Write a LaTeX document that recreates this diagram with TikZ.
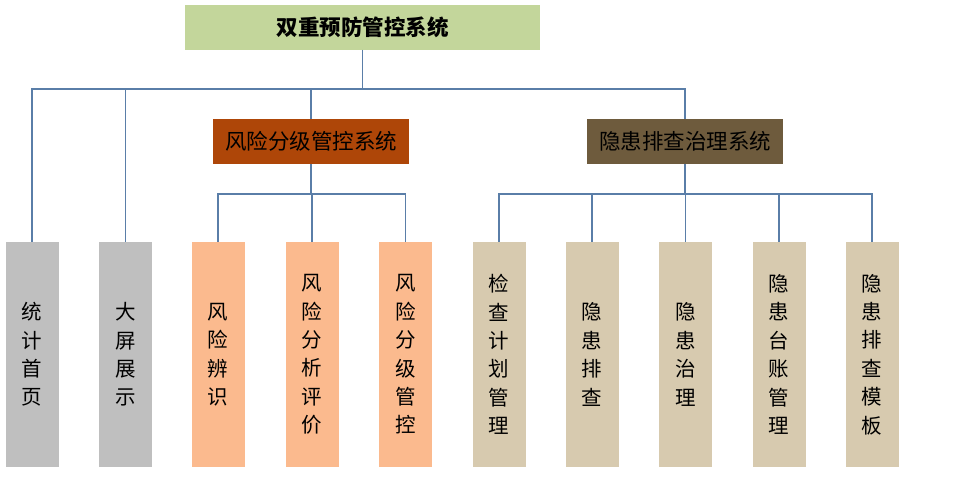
\documentclass[tikz,border=0pt]{standalone}
\usepackage{fontspec}
\newfontfamily\cjk{Noto Sans CJK SC}
\usepackage{tikz}
\usetikzlibrary{positioning}

\definecolor{topgreen}{HTML}{C3D69B}
\definecolor{riskbrown}{HTML}{AE4608}
\definecolor{hidbrown}{HTML}{6E5B3D}
\definecolor{leafgray}{HTML}{BFBFBF}
\definecolor{leafsalmon}{HTML}{FBBA8E}
\definecolor{leaftan}{HTML}{D7CAAF}
\definecolor{linkblue}{HTML}{5A7EA8}

\tikzset{
    link/.style={draw=linkblue, line width=1.4pt},
    sysbox/.style={minimum width=196pt, minimum height=45pt, inner sep=0pt,
        font=\cjk\fontsize{21.5}{24}\selectfont, text=black},
    leaf/.style={minimum width=53pt, minimum height=225pt, inner sep=0pt,
        align=center, text=black, font=\cjk\fontsize{20.5}{28.4}\selectfont}
}

\begin{document}
\begin{tikzpicture}[x=1pt, y=-1pt]
    \useasboundingbox (0,0) rectangle (967,477);

    % Top system
    \node[sysbox, fill=topgreen, minimum width=355pt, font=\cjk\bfseries\fontsize{21.5}{24}\selectfont] (top) at (362.5,27) {双重预防管控系统};

    % Sub systems
    \node[sysbox, fill=riskbrown] (risk) at (311,141.5) {风险分级管控系统};
    \node[sysbox, fill=hidbrown] (hid) at (685,141.5) {隐患排查治理系统};

    % Leaves
    \foreach \name/\x/\col/\txt in {
        tj/32/leafgray/{统\\计\\首\\页},
        dp/125.5/leafgray/{大\\屏\\展\\示},
        fa/218/leafsalmon/{风\\险\\辨\\识},
        fb/312/leafsalmon/{风\\险\\分\\析\\评\\价},
        fc/405.5/leafsalmon/{风\\险\\分\\级\\管\\控},
        ha/499/leaftan/{检\\查\\计\\划\\管\\理},
        hb/592/leaftan/{隐\\患\\排\\查},
        hc/685.5/leaftan/{隐\\患\\治\\理},
        hd/779/leaftan/{隐\\患\\台\\账\\管\\理},
        he/872/leaftan/{隐\\患\\排\\查\\模\\板}} {
    \node[leaf, fill=\col] (\name) at (\x,354.5) {\txt};
}

    % Connectors
    \coordinate (bus) at (top.south |- 0,89);
    \draw[link] (top.south) -- (bus);
    \foreach \n in {tj, dp, risk, hid} {
        \draw[link] (\n.north) |- (bus);
    }

    \coordinate (riskbus) at (risk.south |- 0,194);
    \draw[link] (risk.south) -- (riskbus);
    \foreach \n in {fa, fb, fc} {
        \draw[link] (\n.north) |- (riskbus);
    }

    \coordinate (hidbus) at (hid.south |- 0,194);
    \draw[link] (hid.south) -- (hidbus);
    \foreach \n in {ha, hb, hc, hd, he} {
        \draw[link] (\n.north) |- (hidbus);
    }
\end{tikzpicture}
\end{document}
